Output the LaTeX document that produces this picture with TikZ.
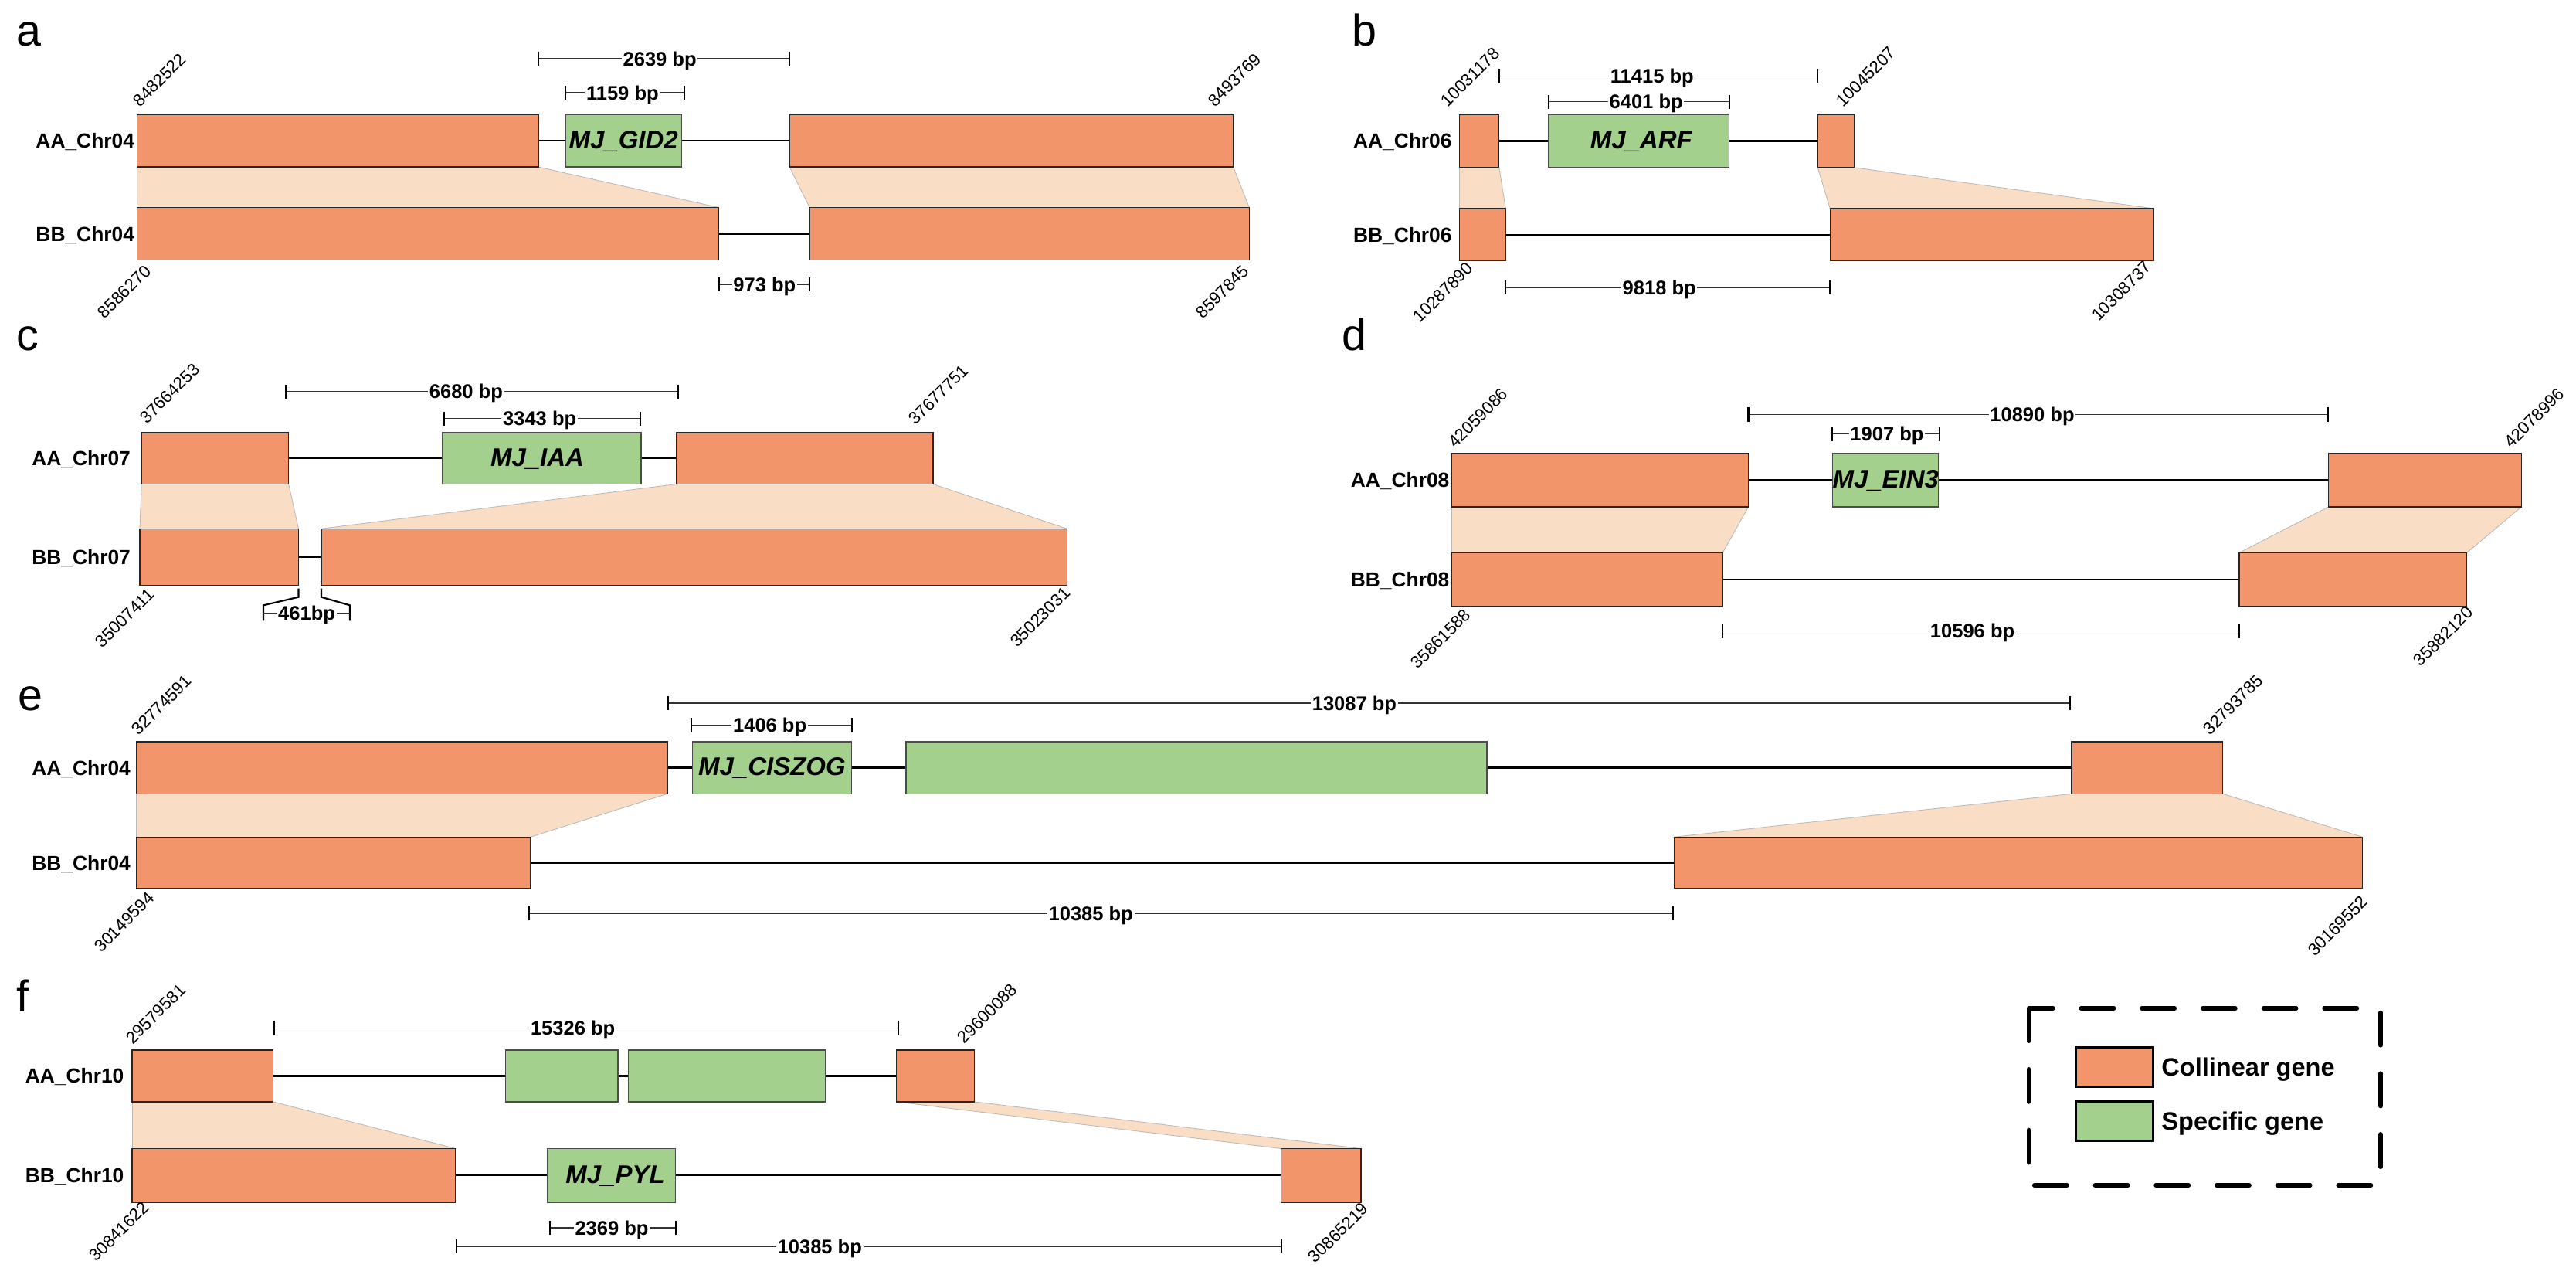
\documentclass[tikz,border=0pt]{standalone}
\usepackage{fontspec}
\setmainfont{Liberation Sans}
\definecolor{colo}{HTML}{F2956A}
\definecolor{spec}{HTML}{A3D18D}
\definecolor{peach}{HTML}{FADDC5}
\newcommand\colbx[4]{\draw[colbox] (#1,#3) rectangle (#2,#4);}
\newcommand\spcbx[4]{\draw[spcbox] (#1,#3) rectangle (#2,#4);}
\newcommand\synband[6]{%
  \fill[synfill] (#1,#5) -- (#2,#5) -- (#4,#6) -- (#3,#6) -- cycle;
  \draw[synedge] (#1,#5) -- (#3,#6);
  \draw[synedge] (#2,#5) -- (#4,#6);}
\newcommand\bpbar[6]{%
  \draw[barline] (#3,#2) -- (#4,#2);
  \draw[barend] (#3,#2-4.3) -- (#3,#2+4.3);
  \draw[barend] (#4,#2-4.3) -- (#4,#2+4.3);
  \node[bptext,name=#1] at (#5,#2+4.3) {#6};}
\newcommand\toplab[4]{\node[numtop,name=#1] at (#2,#3) {#4};}
\newcommand\botlab[4]{\node[numbot,name=#1] at (#2,#3) {#4};}
\newcommand\rowlabel[4]{\node[rowlab,name=#1] at (#2,#3+4.45) {#4};}
\newcommand\genename[4]{\node[genelab,name=#1] at (#2,#3+4.8) {#4};}
\newcommand\backbone[3]{\draw[bbline] (#1,#3) -- (#2,#3);}
\begin{document}
\begin{tikzpicture}[x=1pt,y=-1pt,
  colbox/.style={fill=colo,draw=black!85,line width=0.6pt},
  spcbox/.style={fill=spec,draw=black!70,line width=0.6pt},
  synfill/.style={fill=peach},
  synedge/.style={draw=gray!55,line width=0.4pt},
  barline/.style={draw=black!80,line width=0.6pt},
  barend/.style={draw=black,line width=1pt},
  bbline/.style={draw=black,line width=1.1pt},
  bptext/.style={fill=white,inner sep=0.8pt,anchor=base,font=\bfseries\fontsize{12}{12}\selectfont},
  numtop/.style={rotate=45,anchor=south west,inner sep=0pt,font=\fontsize{10.4}{10.4}\selectfont},
  numbot/.style={rotate=45,anchor=east,inner sep=0pt,font=\fontsize{10.4}{10.4}\selectfont},
  rowlab/.style={anchor=base east,inner sep=0pt,font=\bfseries\fontsize{12.4}{12.4}\selectfont},
  genelab/.style={anchor=base,inner sep=0pt,font=\bfseries\itshape\fontsize{15.5}{15.5}\selectfont},
  panlab/.style={anchor=base west,inner sep=0pt,font=\fontsize{27}{27}\selectfont},
  legtext/.style={anchor=base west,inner sep=0pt,font=\bfseries\fontsize{15.3}{15.3}\selectfont}
]
\useasboundingbox (0,0) rectangle (1568,777.2);

% ---------------- panel a ----------------
\synband{83.4}{327.8}{83.4}{437.5}{101.6}{126.3}
\synband{480.6}{750.7}{492.8}{760.4}{101.6}{126.3}
\backbone{327.8}{480.6}{85.65}
\backbone{437.5}{492.8}{142.25}
\colbx{83.4}{327.8}{69.7}{101.6}
\spcbx{344.3}{414.8}{69.7}{101.6}
\colbx{480.6}{750.7}{69.7}{101.6}
\colbx{83.4}{437.5}{126.3}{158.2}
\colbx{492.8}{760.4}{126.3}{158.2}
\genename{ga}{379.5}{85.65}{MJ\_GID2}
\bpbar{a1}{35.7}{327.8}{480.6}{401.6}{2639 bp}
\bpbar{a2}{56.4}{344.3}{416.7}{378.9}{1159 bp}
\bpbar{a3}{173}{437.5}{492.8}{465.4}{973 bp}
\rowlabel{aAA}{82}{85.65}{AA\_Chr04}
\rowlabel{aBB}{82}{142.25}{BB\_Chr04}
\toplab{at1}{85.4}{65.8}{8482522}
\toplab{at2}{739.7}{65.8}{8493769}
\botlab{ab1}{90.1}{163}{8586270}
\botlab{ab2}{758.5}{163}{8597845}
\node[panlab,name=La] at (10,28.2) {a};

% ---------------- panel b ----------------
\synband{888.4}{912.5}{888.4}{916.5}{101.9}{126.9}
\synband{1106.4}{1128.5}{1113.9}{1310.8}{101.9}{126.9}
\backbone{912.5}{1106.4}{85.8}
\backbone{916.5}{1113.9}{142.9}
\colbx{888.4}{912.5}{69.7}{101.9}
\spcbx{942.6}{1052.6}{69.7}{101.9}
\colbx{1106.4}{1128.5}{69.7}{101.9}
\colbx{888.4}{916.5}{126.9}{158.8}
\colbx{1113.9}{1310.8}{126.9}{158.8}
\genename{gb}{999}{85.8}{MJ\_ARF}
\bpbar{b1}{46.2}{912.5}{1106.4}{1005.6}{11415 bp}
\bpbar{b2}{61.9}{942.6}{1052.6}{1002}{6401 bp}
\bpbar{b3}{175}{916.5}{1113.9}{1010}{9818 bp}
\rowlabel{bAA}{883.9}{85.8}{AA\_Chr06}
\rowlabel{bBB}{883.9}{142.9}{BB\_Chr06}
\toplab{bt1}{881.5}{65.8}{10031178}
\toplab{bt2}{1121.9}{66}{10045207}
\botlab{bb1}{894.8}{161.4}{10287890}
\botlab{bb2}{1307.8}{160.6}{10308737}
\node[panlab,name=Lb] at (823,28) {b};

% ---------------- panel c ----------------
\synband{86.1}{175.7}{85.1}{181.7}{294.6}{321.7}
\synband{411.6}{568}{195.6}{649.6}{294.6}{321.7}
\backbone{175.7}{411.6}{278.95}
\backbone{181.7}{195.6}{338.95}
\colbx{86.1}{175.7}{263.3}{294.6}
\spcbx{269.3}{390.2}{263.3}{294.6}
\colbx{411.6}{568}{263.3}{294.6}
\colbx{85.1}{181.7}{321.7}{356.2}
\colbx{195.6}{649.6}{321.7}{356.2}
\genename{gc}{327}{278.95}{MJ\_IAA}
\bpbar{c1}{238.2}{174.2}{412.6}{283.7}{6680 bp}
\bpbar{c2}{254.7}{270.3}{389.7}{328.5}{3343 bp}
\draw[barend] (181.7,358.1) -- (181.7,363.3) -- (160.3,368.3) -- (160.3,377.7);
\draw[barend] (195.6,358.1) -- (195.6,363.3) -- (213,368.3) -- (213,377.7);
\draw[barline] (160.3,373) -- (213,373);
\node[bptext,name=c3] at (186.7,377.3) {461bp};
\rowlabel{cAA}{79.6}{278.95}{AA\_Chr07}
\rowlabel{cBB}{79.6}{338.95}{BB\_Chr07}
\toplab{ct1}{89.6}{258.6}{37664253}
\toplab{ct2}{557.5}{259.4}{37677751}
\botlab{cb1}{92.1}{359.7}{35007411}
\botlab{cb2}{649.6}{359}{35023031}
\node[panlab,name=Lc] at (10,213) {c};

% ---------------- panel d ----------------
\synband{883.4}{1064.2}{883.4}{1048.6}{308.4}{336.3}
\synband{1417.3}{1534.8}{1363}{1501.6}{308.4}{336.3}
\backbone{1064.2}{1417.3}{292.1}
\backbone{1048.6}{1363}{352.7}
\colbx{883.4}{1064.2}{275.8}{308.4}
\spcbx{1115.4}{1179.7}{275.8}{308.4}
\colbx{1417.3}{1534.8}{275.8}{308.4}
\colbx{883.4}{1048.6}{336.3}{369.1}
\colbx{1363}{1501.6}{336.3}{369.1}
\genename{gd}{1147.8}{292.1}{MJ\_EIN3}
\bpbar{d1}{252.3}{1064.2}{1416.8}{1237}{10890 bp}
\bpbar{d2}{264.1}{1115.4}{1180.7}{1148.6}{1907 bp}
\bpbar{d3}{384}{1048.6}{1363}{1200.6}{10596 bp}
\rowlabel{dAA}{882.4}{292.1}{AA\_Chr08}
\rowlabel{dBB}{882.4}{352.7}{BB\_Chr08}
\toplab{dt1}{885.9}{273.5}{42059086}
\toplab{dt2}{1528.8}{273.5}{42078996}
\botlab{db1}{893.4}{372.2}{35861588}
\botlab{db2}{1503.7}{370.6}{35882120}
\node[panlab,name=Ld] at (816.6,213) {d};

% ---------------- panel e ----------------
\synband{83.1}{406.2}{83.1}{323}{483}{509.3}
\synband{1261}{1353}{1019}{1437.9}{483}{509.3}
\backbone{406.2}{1261}{467.15}
\backbone{323}{1019}{524.95}
\colbx{83.1}{406.2}{451.3}{483}
\spcbx{421.6}{518.2}{451.3}{483}
\spcbx{551.5}{905}{451.3}{483}
\colbx{1261}{1353}{451.3}{483}
\colbx{83.1}{323}{509.3}{540.6}
\colbx{1019}{1437.9}{509.3}{540.6}
\genename{ge}{469.9}{467.15}{MJ\_CISZOG}
\bpbar{e1}{427.8}{406.7}{1260}{824.4}{13087 bp}
\bpbar{e2}{441.2}{420.6}{518.7}{468.6}{1406 bp}
\bpbar{e3}{555.7}{322}{1018.5}{664}{10385 bp}
\rowlabel{eAA}{79.6}{467.15}{AA\_Chr04}
\rowlabel{eBB}{79.6}{524.95}{BB\_Chr04}
\toplab{et1}{84.6}{448.2}{32774591}
\toplab{et2}{1345.4}{448}{32793785}
\botlab{eb1}{92.1}{544.5}{30149594}
\botlab{eb2}{1439.4}{546.8}{30169552}
\node[panlab,name=Le] at (11,432.5) {e};

% ---------------- panel f ----------------
\synband{80.4}{166.2}{80.4}{277.4}{670.4}{698.9}
\synband{545.6}{593.1}{779.8}{828.4}{670.4}{698.9}
\backbone{166.2}{545.6}{654.65}
\backbone{277.4}{779.8}{715.2}
\colbx{80.4}{166.2}{638.9}{670.4}
\spcbx{307.6}{376.1}{638.9}{670.4}
\spcbx{382.6}{502.4}{638.9}{670.4}
\colbx{545.6}{593.1}{638.9}{670.4}
\colbx{80.4}{277.4}{698.9}{731.5}
\spcbx{333}{411.2}{698.9}{731.5}
\colbx{779.8}{828.4}{698.9}{731.5}
\genename{gf}{374.5}{715.2}{MJ\_PYL}
\bpbar{f1}{625.6}{166.8}{546.7}{348.7}{15326 bp}
\bpbar{f2}{747.1}{334.6}{411.2}{372.4}{2369 bp}
\bpbar{f3}{758.5}{277.9}{779.8}{499}{10385 bp}
\rowlabel{fAA}{75.6}{654.65}{AA\_Chr10}
\rowlabel{fBB}{75.6}{715.2}{BB\_Chr10}
\toplab{ft1}{81}{636.2}{29579581}
\toplab{ft2}{587.2}{636}{29600088}
\botlab{fb1}{89}{732.8}{30841622}
\botlab{fb2}{831}{733.6}{30865219}
\node[panlab,name=Lf] at (9.7,615.9) {f};

% ---------------- legend ----------------
\draw[line width=2.5pt,dash pattern=on 20pt off 17pt,line cap=round] (1234.9,613.5) rectangle (1449.1,721.2);
\draw[fill=colo,draw=black,line width=1.5pt] (1263.4,637.4) rectangle (1310.6,661.3);
\draw[fill=spec,draw=black,line width=1.5pt] (1263.4,670.3) rectangle (1310.6,694.3);
\node[legtext,name=leg1] at (1315.5,654.6) {Collinear gene};
\node[legtext,name=leg2] at (1315.5,687.6) {Specific gene};
\end{tikzpicture}
\end{document}
